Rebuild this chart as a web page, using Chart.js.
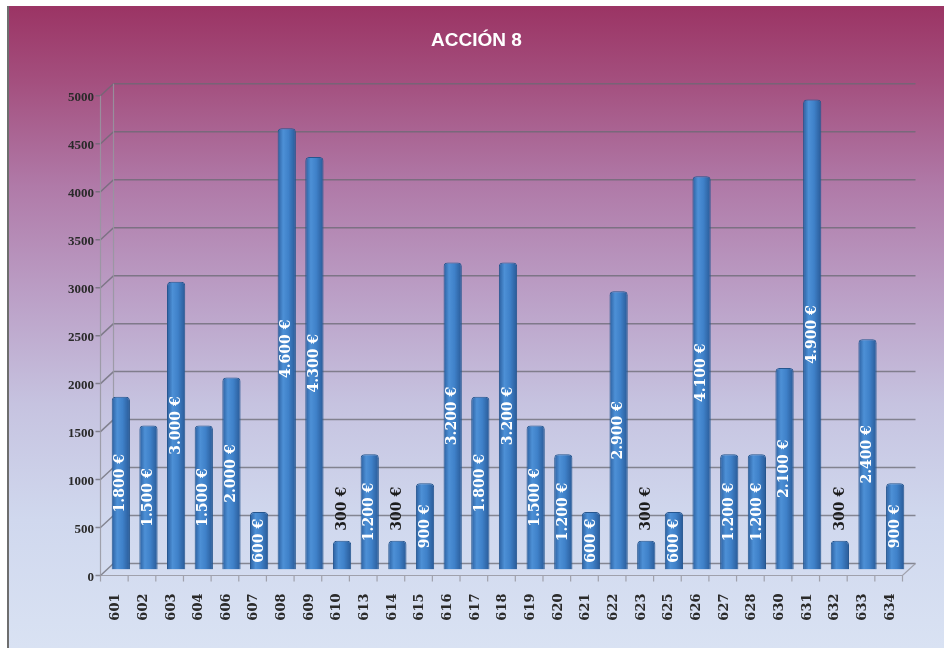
<!DOCTYPE html>
<html>
<head>
<meta charset="utf-8">
<title>ACCIÓN 8</title>
<script src="https://cdn.jsdelivr.net/npm/chart.js@4.4.0/dist/chart.umd.min.js"></script>
<style>
    html, body { margin: 0; padding: 0; background: #fff; }
    #wrap {
        position: absolute; left: 7px; top: 6px; width: 935px; height: 642px;
        border-left: 2px solid #6e6e6e;
        background: linear-gradient(to bottom, #9b3464 0%, #a4507f 12%, #b07aa8 28%, #bb9fc6 45%, #c6c3e0 62%, #d0d8ee 80%, #d9e2f3 100%);
    }
    canvas { display: block; }
</style>
</head>
<body>
<div id="wrap"><canvas id="chart" width="935" height="642"></canvas></div>
<script>
// Data
const codigos = ['601','602','603','604','606','607','608','609','610','613','614','615','616','617','618',
                 '619','620','621','622','623','625','626','627','628','630','631','632','633','634'];
const importes = [1800, 1500, 3000, 1500, 2000, 600, 4600, 4300, 300, 1200, 300, 900, 3200, 1800, 3200,
                  1500, 1200, 600, 2900, 300, 600, 4100, 1200, 1200, 2100, 4900, 300, 2400, 900];
const ejeY = { min: 0, max: 5000, step: 500 };

// 3D look: bars sit at mid depth, front edge is half an offset down-left, back wall half up-right
const HX = 6.5, HY = 6;

const euros = (v) => {
    const s = v >= 1000 ? Math.floor(v / 1000) + '.' + String(v % 1000).padStart(3, '0') : String(v);
    return s + ' €';
};

// cylinder-ish shading across each bar
const barFill = (c) => {
    const chart = c.chart;
    const xs = chart.scales.x;
    if (!chart.chartArea || !xs || c.type !== 'data') return '#3d7cc4';
    const x = xs.getPixelForValue(c.dataIndex);
    const g = chart.ctx.createLinearGradient(x - 9, 0, x + 9, 0);
    g.addColorStop(0, '#2b5f9f');
    g.addColorStop(0.3, '#4d90d6');
    g.addColorStop(0.6, '#3f81c9');
    g.addColorStop(1, '#295a97');
    return g;
};

// back wall gridlines, floor and small ticks
const wall = {
    id: 'wall',
    beforeDatasetsDraw(chart) {
        const { ctx, chartArea: a, scales: { y } } = chart;
        const fx = a.left - HX, bx = a.left + HX;
        const y0 = y.getPixelForValue(ejeY.min), yTop = y.getPixelForValue(ejeY.max);
        ctx.save();
        ctx.strokeStyle = 'rgba(105,105,115,0.75)';
        ctx.lineWidth = 1.5;
        ctx.beginPath();
        for (let v = ejeY.min; v <= ejeY.max; v += ejeY.step) {
            const py = y.getPixelForValue(v);
            ctx.moveTo(fx - 5, py + HY); ctx.lineTo(fx, py + HY);
            ctx.moveTo(fx, py + HY); ctx.lineTo(bx, py - HY);
            ctx.moveTo(bx, py - HY); ctx.lineTo(a.right + HX, py - HY);
        }
        ctx.stroke();
        ctx.strokeStyle = 'rgba(150,150,160,0.85)';
        ctx.lineWidth = 1.2;
        ctx.beginPath();
        ctx.moveTo(fx, y0 + HY); ctx.lineTo(fx, yTop + HY);
        ctx.moveTo(bx, y0 - HY); ctx.lineTo(bx, yTop - HY);
        ctx.moveTo(fx, y0 + HY); ctx.lineTo(a.right - HX, y0 + HY); ctx.lineTo(a.right + HX, y0 - HY);
        // category ticks under the floor
        const n = codigos.length, cw = (a.right - a.left) / n;
        for (let i = 0; i <= n; i++) {
            const tx = a.left + i * cw - HX;
            ctx.moveTo(tx, y0 + HY); ctx.lineTo(tx, y0 + HY + 6);
        }
        ctx.stroke();
        ctx.restore();
    }
};

// value labels, rotated, inside the bars (small ones sit on top)
const etiquetas = {
    id: 'etiquetas',
    afterDatasetsDraw(chart) {
        const { ctx } = chart;
        const meta = chart.getDatasetMeta(0);
        ctx.save();
        ctx.font = 'bold 14px "DejaVu Serif"';
        ctx.textAlign = 'center';
        ctx.textBaseline = 'middle';
        meta.data.forEach((bar, i) => {
            const v = importes[i];
            const txt = euros(v);
            const w = ctx.measureText(txt).width;
            let cy = (bar.y + bar.base) / 2;
            ctx.fillStyle = '#ffffff';
            if (v < 500) {
                cy = bar.y - 10 - w / 2;
                ctx.fillStyle = '#1c1c1c';
            }
            ctx.save();
            ctx.translate(bar.x, cy);
            ctx.rotate(-Math.PI / 2);
            ctx.fillText(txt, 0, 0);
            ctx.restore();
        });
        ctx.restore();
    }
};

new Chart(document.getElementById('chart'), {
    type: 'bar',
    data: {
        labels: codigos,
        datasets: [{
            data: importes,
            backgroundColor: barFill,
            borderColor: '#25568f',
            borderWidth: 1,
            borderRadius: { topLeft: 4, topRight: 4 },
            borderSkipped: 'bottom',
            barPercentage: 0.66,
            categoryPercentage: 1
        }]
    },
    options: {
        responsive: false,
        animation: false,
        devicePixelRatio: 1,
        layout: { padding: 0 },
        plugins: {
            legend: { display: false },
            tooltip: { enabled: false },
            title: {
                display: true,
                text: 'ACCIÓN 8',
                color: '#ffffff',
                font: { family: 'Liberation Sans', size: 19, weight: 'bold' },
                padding: { top: 23, bottom: 38 }
            }
        },
        scales: {
            x: {
                grid: { display: false },
                border: { display: false },
                ticks: {
                    minRotation: 90, maxRotation: 90, padding: 16, labelOffset: -5,
                    color: '#2a2a2a',
                    font: { family: 'DejaVu Serif', size: 13, weight: 'bold' }
                },
                afterFit: (s) => { s.height = 78.5; }
            },
            y: {
                min: ejeY.min, max: ejeY.max,
                grid: { display: false },
                border: { display: false },
                ticks: {
                    stepSize: ejeY.step, padding: 5, labelOffset: HY + 2,
                    color: '#2a2a2a',
                    font: { family: 'Liberation Serif', size: 13, weight: 'bold' },
                    callback: (v) => String(v)
                },
                afterFit: (s) => { s.width = 98; }
            },
            // empty right-hand spacer so the plot ends where the original does
            derecha: {
                position: 'right',
                min: ejeY.min, max: ejeY.max,
                grid: { display: false },
                border: { display: false },
                ticks: { display: false },
                afterFit: (s) => { s.width = 35; }
            }
        }
    },
    plugins: [wall, etiquetas]
});
</script>
</body>
</html>
